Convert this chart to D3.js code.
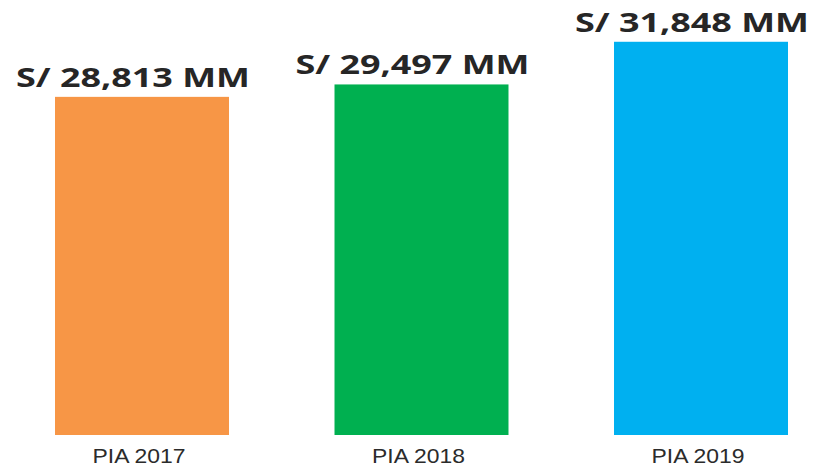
<!DOCTYPE html>
<html>
<head>
<meta charset="utf-8">
<script src="https://cdn.jsdelivr.net/npm/d3@7"></script>
<style>
  html, body { margin: 0; padding: 0; background: #ffffff; }
  svg { display: block; }
</style>
</head>
<body>
<script>
// Presupuesto institucional de apertura (millones de soles)
const categories = ["PIA 2017", "PIA 2018", "PIA 2019"];
const values = [28813, 29497, 31848];
const valueLabels = ["S/ 28,813 MM", "S/ 29,497 MM", "S/ 31,848 MM"];
const colors = ["#F79646", "#00B050", "#00B0F0"];

const W = 817, H = 466;
const baseY = 435;

const svg = d3.select("body").append("svg")
  .attr("width", W).attr("height", H);

const x = d3.scaleBand()
  .domain(categories)
  .range([55, 788])
  .paddingInner(0.3775)
  .paddingOuter(0);

const y = d3.scaleLinear()
  .domain([10180, 34150])
  .range([baseY, 0]);

const g = svg.append("g");

g.selectAll("rect.bar")
  .data(values)
  .join("rect")
  .attr("class", "bar")
  .attr("x", (d, i) => x(categories[i]))
  .attr("y", d => y(d))
  .attr("width", x.bandwidth())
  .attr("height", d => baseY - y(d))
  .attr("fill", (d, i) => colors[i]);

// value labels above bars
g.selectAll("text.val")
  .data(values)
  .join("text")
  .attr("class", "val")
  .attr("x", (d, i) => x(categories[i]) + x.bandwidth() / 2 - 9)
  .attr("y", d => y(d) - 10)
  .attr("text-anchor", "middle")
  .attr("font-family", "'Open Sans', 'DejaVu Sans', sans-serif")
  .attr("font-weight", 700)
  .attr("font-size", 26)
  .attr("fill", "#262626")
  .attr("textLength", 234)
  .attr("lengthAdjust", "spacingAndGlyphs")
  .text((d, i) => valueLabels[i]);

// category axis labels
const xAxis = d3.axisBottom(x).tickSize(0).tickPadding(13);
const ax = svg.append("g")
  .attr("transform", `translate(0,${baseY})`)
  .call(xAxis);
ax.select(".domain").remove();
ax.selectAll("text")
  .attr("font-family", "'Liberation Sans', Arial, sans-serif")
  .attr("font-size", 20.5)
  .attr("fill", "#2b2b2b")
  .attr("dx", -3)
  .attr("textLength", 93)
  .attr("lengthAdjust", "spacingAndGlyphs");
</script>
</body>
</html>
